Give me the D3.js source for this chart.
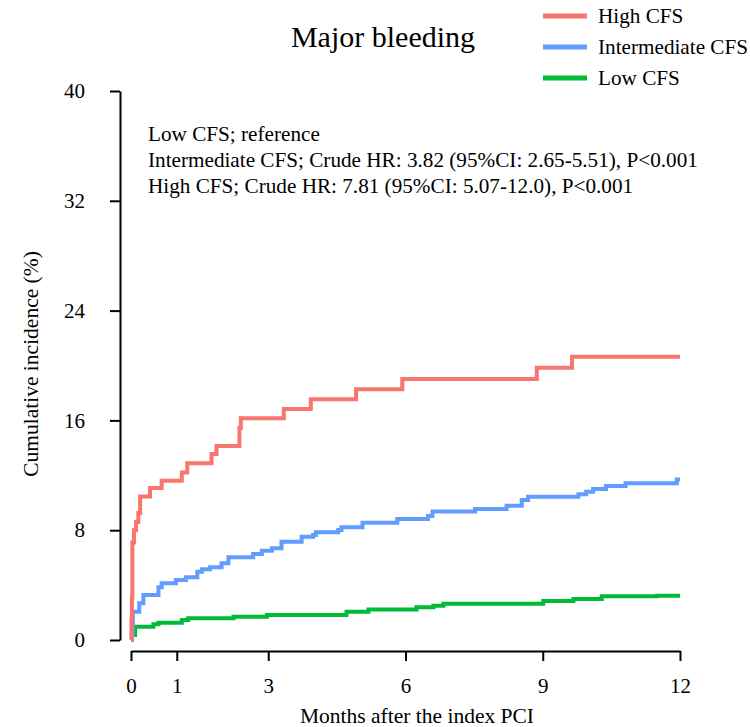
<!DOCTYPE html>
<html lang="en">
<head>
  <meta charset="UTF-8">
  <title>Major bleeding</title>
  <script src="https://d3js.org/d3.v7.min.js"></script>
  <style>
    body { margin: 0; background: #fff; }
    svg text { font-family: "Liberation Serif", "Times New Roman", serif; fill: #000; }
    .axis path, .axis line { stroke: #000; stroke-width: 2; }
    .axis text { font-size: 21px; }
    .curve { fill: none; stroke-width: 4; stroke-linejoin: miter; }
  </style>
</head>
<body>
<div id="chart"></div>
<script>
  // cumulative incidence curves: [months, %]
  const highCFS = [
    [0, 0], [0.01, 1.5], [0.02, 3.1], [0.03, 7.1], [0.065, 8.0], [0.11, 8.6], [0.16, 9.25],
    [0.2, 10.45], [0.415, 11.07], [0.67, 11.6], [1.11, 12.2], [1.23, 12.87], [1.76, 13.55],
    [1.87, 14.13], [2.37, 15.45], [2.40, 16.15], [3.34, 16.83], [3.93, 17.54], [4.92, 18.27],
    [5.93, 19.02], [8.87, 19.84], [9.64, 20.64], [12, 20.64]
  ];
  const intermediateCFS = [
    [0, 0], [0.02, 0.4], [0.04, 2.06], [0.18, 2.67], [0.27, 3.28], [0.6, 3.84], [0.67, 4.13],
    [0.98, 4.37], [1.2, 4.57], [1.45, 4.98], [1.55, 5.15], [1.73, 5.3], [1.98, 5.59],
    [2.13, 6.03], [2.67, 6.27], [2.86, 6.51], [3.08, 6.68], [3.29, 7.16], [3.73, 7.53],
    [3.98, 7.65], [4.04, 7.85], [4.53, 8.01], [4.6, 8.21], [5.06, 8.55], [5.82, 8.82],
    [6.49, 9.04], [6.59, 9.37], [7.52, 9.54], [8.21, 9.79], [8.54, 10.2], [8.68, 10.44],
    [9.78, 10.62], [9.95, 10.81], [10.1, 11.0], [10.38, 11.22], [10.81, 11.42], [11.93, 11.7],
    [12, 11.7]
  ];
  const lowCFS = [
    [0, 0], [0.02, 0.36], [0.09, 0.97], [0.49, 1.14], [0.6, 1.26], [1.11, 1.46], [1.25, 1.58],
    [2.24, 1.7], [2.97, 1.82], [4.71, 2.06], [5.19, 2.23], [6.24, 2.38], [6.61, 2.5],
    [6.83, 2.65], [9.01, 2.84], [9.67, 2.99], [10.29, 3.18], [11.5, 3.23], [12, 3.23]
  ];

  const seriesNames = ["High CFS", "Intermediate CFS", "Low CFS"];
  const seriesColors = ["#F8766D", "#619CFF", "#00BA38"];
  const seriesData = [highCFS, intermediateCFS, lowCFS];

  const xTicks = [0, 1, 3, 6, 9, 12];
  const yTicks = [0, 8, 16, 24, 32, 40];

  const annotations = [
    "Low CFS; reference",
    "Intermediate CFS; Crude HR: 3.82 (95%CI: 2.65-5.51), P<0.001",
    "High CFS; Crude HR: 7.81 (95%CI: 5.07-12.0), P<0.001"
  ];

  const width = 750, height = 727;

  const svg = d3.select("#chart").append("svg")
    .attr("width", width)
    .attr("height", height);

  const x = d3.scaleLinear().domain([0, 12]).range([131, 680]);
  const y = d3.scaleLinear().domain([0, 40]).range([640, 91]);

  // axes (separated, R style)
  svg.append("g")
    .attr("class", "axis")
    .attr("transform", "translate(120,0)")
    .call(d3.axisLeft(y).tickValues(yTicks).tickSize(10).tickSizeOuter(0).tickPadding(25));

  svg.append("g")
    .attr("class", "axis")
    .attr("transform", "translate(0,651)")
    .call(d3.axisBottom(x).tickValues(xTicks).tickSize(10).tickSizeOuter(0).tickPadding(17));

  // curves
  const line = d3.line()
    .x(d => x(d[0]))
    .y(d => y(d[1]))
    .curve(d3.curveStepAfter);

  // draw low first so high sits on top
  [2, 1, 0].forEach(i => {
    svg.append("path")
      .attr("class", "curve")
      .attr("stroke", seriesColors[i])
      .attr("d", line(seriesData[i]));
  });

  // title
  svg.append("text")
    .attr("x", 383)
    .attr("y", 47)
    .attr("text-anchor", "middle")
    .style("font-size", "30px")
    .text("Major bleeding");

  // axis titles
  svg.append("text")
    .attr("x", 417)
    .attr("y", 723)
    .attr("text-anchor", "middle")
    .style("font-size", "21.5px")
    .text("Months after the index PCI");

  svg.append("text")
    .attr("transform", "translate(38,364) rotate(-90)")
    .attr("text-anchor", "middle")
    .style("font-size", "21.5px")
    .text("Cumulative incidence (%)");

  // HR annotations
  svg.selectAll(".note")
    .data(annotations)
    .enter().append("text")
    .attr("class", "note")
    .attr("x", 148)
    .attr("y", (d, i) => 141 + i * 26)
    .style("font-size", "21.2px")
    .text(d => d);

  // legend
  const legend = svg.append("g").attr("transform", "translate(543,16)");
  seriesNames.forEach((name, i) => {
    legend.append("line")
      .attr("x1", 0).attr("x2", 44)
      .attr("y1", i * 31).attr("y2", i * 31)
      .attr("stroke", seriesColors[i])
      .attr("stroke-width", 5);
    legend.append("text")
      .attr("x", 55)
      .attr("y", i * 31 + 7)
      .style("font-size", "21.2px")
      .text(name);
  });
</script>
</body>
</html>
